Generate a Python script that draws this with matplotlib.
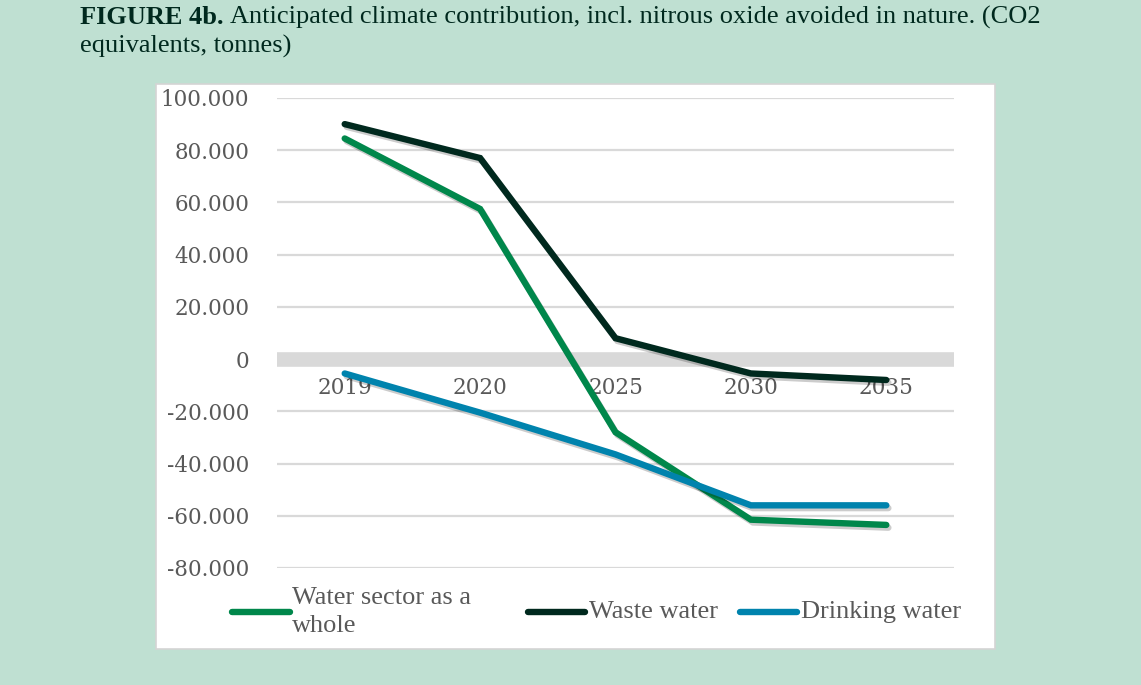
#!/usr/bin/env python3
"""Figure 4b: anticipated climate contribution incl. nitrous oxide avoided in nature."""

import matplotlib
matplotlib.use("Agg")
import matplotlib.pyplot as plt
import matplotlib.patheffects as pe
from matplotlib.lines import Line2D
from matplotlib.patches import Rectangle
from matplotlib.ticker import FuncFormatter

years = ["2019", "2020", "2025", "2030", "2035"]
water_sector = [84500, 57500, -28000, -61500, -63500]
waste_water = [90000, 77000, 8000, -5500, -8000]
drinking_water = [-5500, -20500, -36500, -56000, -56000]

series_labels = ["Water sector as a\nwhole", "Waste water", "Drinking water"]
series_colors = ["#00874B", "#00291E", "#0083AD"]

BG = "#BFE0D2"
GRID = "#D9D9D9"
TICK_COLOR = "#595959"
TITLE_COLOR = "#00291E"

W, H = 1141, 685
fig = plt.figure(figsize=(W / 100, H / 100), dpi=100)
fig.patch.set_facecolor(BG)

# white chart panel
fig.patches.append(Rectangle((156 / W, 1 - 649 / H), (995 - 156) / W, (649 - 84) / H,
                             transform=fig.transFigure, facecolor="white",
                             edgecolor="#D4D4D4", linewidth=1.2, zorder=-1))

ax = fig.add_axes([277 / W, 1 - 568 / H, (954 - 277) / W, (568 - 98) / H])
ax.set_zorder(2)
ax.set_facecolor("none")
for s in ax.spines.values():
    s.set_visible(False)

ax.set_ylim(-80000, 100000)
ax.set_xlim(-0.5, len(years) - 0.5)
ax.set_yticks(range(-80000, 100001, 20000))
ax.yaxis.set_major_formatter(FuncFormatter(lambda v, _: f"{int(v):,}".replace(",", ".")))
ax.tick_params(axis="y", length=0, pad=20, labelsize=15.5, labelcolor=TICK_COLOR)
for lab in ax.get_yticklabels():
    lab.set_fontfamily("DejaVu Serif")
ax.set_xticks([])
ax.grid(axis="y", color=GRID, linewidth=1.6)
ax.set_axisbelow(True)
ax.axhline(0, color=GRID, linewidth=10.5, zorder=1)

xs = range(len(years))
for i, y in enumerate(years):
    ax.text(i, -11000, y, ha="center", va="center", fontsize=15.5, color=TICK_COLOR,
            family="DejaVu Serif", zorder=2)

shadow = [pe.SimpleLineShadow(offset=(1.5, -2), alpha=0.2), pe.Normal()]
for vals, col in zip([water_sector, waste_water, drinking_water], series_colors):
    ax.plot(xs, vals, color=col, linewidth=4.6, solid_capstyle="round",
            solid_joinstyle="miter", zorder=3, path_effects=shadow)

# legend drawn by hand to match the spacing of the original
leg_y = 1 - 612 / H
leg_items = [(232, 290, 292), (528, 585, 589), (740, 797, 801)]
for (h0, h1, tx), lab, col in zip(leg_items, series_labels, series_colors):
    fig.add_artist(Line2D([h0 / W, h1 / W], [leg_y, leg_y], color=col, linewidth=4.6,
                          solid_capstyle="round", transform=fig.transFigure, zorder=3))
    fig.text(tx / W, leg_y, lab, fontsize=19, family="Liberation Serif",
             color=TICK_COLOR, va="center", ha="left", linespacing=1.3, zorder=3)

# title: bold lead-in followed by regular text
fs = 19
t1 = fig.text(80 / W, 1 - 17 / H, "FIGURE 4b.", fontsize=fs, fontweight="bold",
              family="Liberation Serif", color=TITLE_COLOR, va="center")
fig.canvas.draw()
bb = t1.get_window_extent()
fig.text(bb.x1 / W + 6 / W, 1 - 17 / H,
         "Anticipated climate contribution, incl. nitrous oxide avoided in nature. (CO2",
         fontsize=fs, family="Liberation Serif", color=TITLE_COLOR, va="center")
fig.text(80 / W, 1 - 46 / H, "equivalents, tonnes)", fontsize=fs,
         family="Liberation Serif", color=TITLE_COLOR, va="center")

fig.savefig("out.png", dpi=100, facecolor=BG)
